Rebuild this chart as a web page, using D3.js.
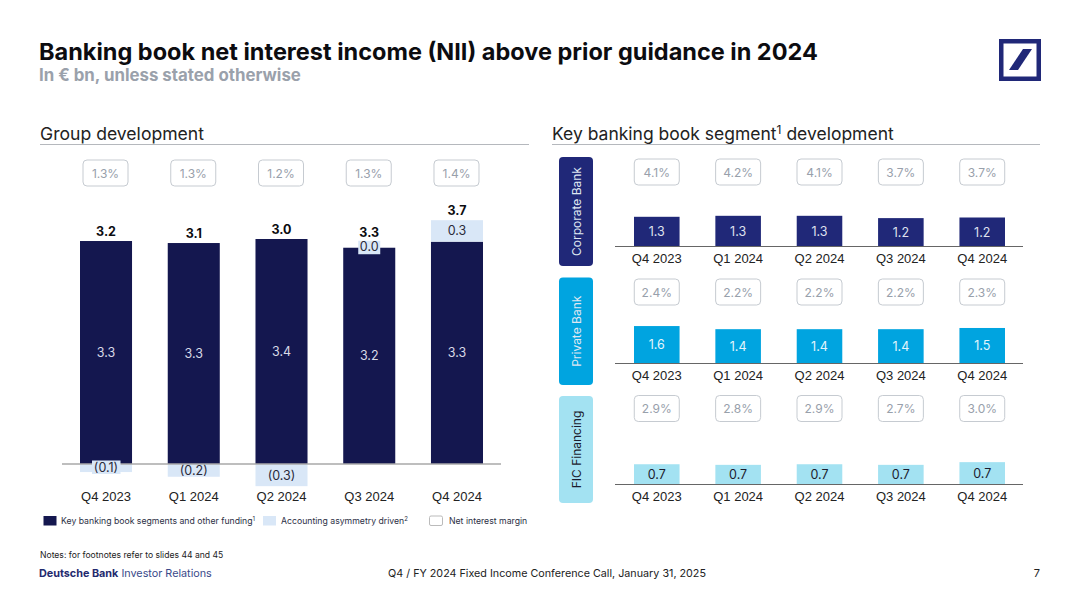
<!doctype html>
<html lang="en">
  <head>
    <meta charset="utf-8" />
    <title>Banking book NII</title>
    <script src="https://d3js.org/d3.v7.min.js"></script>
    <style>
      body { margin: 0; background: #fff; }
      svg { display: block; font-family: Inter, "Noto Sans", sans-serif; }
    </style>
  </head>
  <body>
    <svg id="main" width="1080" height="607"></svg>

    <script>
      const quarters = ['Q4 2023', 'Q1 2024', 'Q2 2024', 'Q3 2024', 'Q4 2024'];

      // group development
      const keySegments = [3.32, 3.29, 3.35, 3.22, 3.31];
      const asymmetry = [-0.12, -0.19, -0.33, 0.0, 0.32];
      const totals = ['3.2', '3.1', '3.0', '3.3', '3.7'];
      const asymmetryLabels = ['(0.1)', '(0.2)', '(0.3)', '0.0', '0.3'];
      const groupMargin = ['1.3%', '1.3%', '1.2%', '1.3%', '1.4%'];

      // segment development
      const corporate = [1.264, 1.306, 1.306, 1.208, 1.234];
      const corporateMargin = ['4.1%', '4.2%', '4.1%', '3.7%', '3.7%'];
      const privateBank = [1.56, 1.43, 1.43, 1.43, 1.48];
      const privateMargin = ['2.4%', '2.2%', '2.2%', '2.2%', '2.3%'];
      const fic = [0.675, 0.655, 0.675, 0.655, 0.745];
      const ficMargin = ['2.9%', '2.8%', '2.9%', '2.7%', '3.0%'];

      const navy = '#14174f';
      const blue = '#202878';
      const sky = '#00a4e0';
      const pale = '#a3e2f2';
      const lightBlue = '#d9e7f7';
      const grey = '#98a0ab';

      const svg = d3.select('#main');

      function text(x, y, str, size, color, weight, anchor) {
        return svg.append('text').attr('x', x).attr('y', y).text(str)
          .style('font-size', size + 'px').style('fill', color || '#1a1a1a')
          .style('font-weight', weight || 400).style('text-anchor', anchor || 'start');
      }

      function marginBox(cx, y, label) {
        svg.append('rect').attr('x', cx - 22.5).attr('y', y).attr('width', 45).attr('height', 26).attr('rx', 4)
          .style('fill', '#fff').style('stroke', '#c6cbd1');
        text(cx, y + 17.5, label, 12, grey, 400, 'middle');
      }

      // header
      text(39, 60, 'Banking book net interest income (NII) above prior guidance in 2024', 23.5, '#0c0c10', 700);
      text(39, 81, 'In € bn, unless stated otherwise', 16.85, '#9aa1ab', 700);

      svg.append('rect').attr('x', 1001.25).attr('y', 41.25).attr('width', 37.5).attr('height', 37.5)
        .style('fill', '#fff').style('stroke', blue).style('stroke-width', 4.5);
      svg.append('path').attr('d', 'M1023 49L1032 49L1018 70L1009 70Z').style('fill', blue);

      // section titles
      text(40, 140, 'Group development', 17.6, '#222');
      const segTitle = text(552, 140, 'Key banking book segment', 17.5, '#222');
      segTitle.append('tspan').text('1').attr('dy', -6).style('font-size', '12px');
      segTitle.append('tspan').text(' development').attr('dy', 6);
      svg.append('line').attr('x1', 40).attr('x2', 529).attr('y1', 144.5).attr('y2', 144.5).style('stroke', '#b5b8bd');
      svg.append('line').attr('x1', 552).attr('x2', 1040).attr('y1', 144.5).attr('y2', 144.5).style('stroke', '#b5b8bd');

      // group chart
      const xGroup = d3.scaleBand().domain(quarters).range([80, 483]).paddingInner(0.407).paddingOuter(0);
      const yGroup = d3.scaleLinear().domain([0, 3.35]).range([464, 239]);

      quarters.forEach((q, i) => {
        const topKey = yGroup(keySegments[i]);
        svg.append('rect').attr('x', xGroup(q)).attr('y', topKey)
          .attr('width', xGroup.bandwidth()).attr('height', yGroup(0) - topKey).style('fill', navy);
        const a = asymmetry[i];
        if (a !== 0) {
          const y0 = a > 0 ? yGroup(keySegments[i] + a) : yGroup(0);
          svg.append('rect').attr('x', xGroup(q)).attr('y', y0)
            .attr('width', xGroup.bandwidth()).attr('height', Math.abs(yGroup(a) - yGroup(0))).style('fill', lightBlue);
        }
      });

      svg.append('line').attr('x1', 62).attr('x2', 501).attr('y1', 464).attr('y2', 464).style('stroke', '#a8a8a8').style('stroke-width', 1.5);

      // labels go over the baseline, small values get a backing box
      quarters.forEach((q, i) => {
        const cx = xGroup(q) + xGroup.bandwidth() / 2;
        const topKey = yGroup(keySegments[i]);
        const a = asymmetry[i];
        marginBox(cx - 0.5, 160, groupMargin[i]);
        text(cx, (topKey + yGroup(0)) / 2 + 4.5, keySegments[i].toFixed(1), 12.5, '#d8dae6', 400, 'middle');

        if (a > 0) {
          text(cx, yGroup(keySegments[i] + a) + 15, asymmetryLabels[i], 12.5, '#2a2a3a', 400, 'middle');
        } else if (a === 0) {
          svg.append('rect').attr('x', cx - 11).attr('y', topKey - 7).attr('width', 22).attr('height', 13.5).style('fill', lightBlue);
          text(cx, topKey + 3, asymmetryLabels[i], 12.5, '#2a2a3a', 400, 'middle');
        } else if (a > -0.15) {
          svg.append('rect').attr('x', cx - 14).attr('y', 460.5).attr('width', 28.5).attr('height', 13.5).style('fill', lightBlue);
          text(cx, 471.5, asymmetryLabels[i], 12.5, '#2a2a3a', 400, 'middle');
        } else {
          text(cx, (yGroup(0) + yGroup(a)) / 2 + 4.5, asymmetryLabels[i], 12.5, '#2a2a3a', 400, 'middle');
        }

        const top = a > 0 ? yGroup(keySegments[i] + a) : topKey - (a === 0 ? 7 : 0);
        text(cx, top - (a === 0 ? 3.5 : 5), totals[i], 12.5, '#0c0c10', 700, 'middle');
      });

      const axisGroup = d3.axisBottom(xGroup).tickSize(0).tickPadding(27.5);
      const gGroup = svg.append('g').attr('transform', 'translate(0,464)').call(axisGroup);
      gGroup.select('.domain').remove();
      gGroup.selectAll('text').style('font-size', '13px').style('fill', '#222').style('font-family', 'inherit');

      // segment panels
      const xSeg = d3.scaleBand().domain(quarters).range([634, 1005]).paddingInner(0.44).paddingOuter(0);
      const panels = [
        { name: 'Corporate Bank', values: corporate, margins: corporateMargin, color: blue, textColor: '#dfe1ee', band: [157, 266], base: 246.5, perUnit: 23.5, boxY: 159 },
        { name: 'Private Bank', values: privateBank, margins: privateMargin, color: sky, textColor: '#e4f5fc', band: [277.5, 385], base: 363.5, perUnit: 24, boxY: 279 },
        { name: 'FIC Financing', values: fic, margins: ficMargin, color: pale, textColor: '#1c1c2e', band: [396, 503], base: 484.5, perUnit: 30, boxY: 395.5 }
      ];

      panels.forEach((p) => {
        svg.append('rect').attr('x', 559).attr('y', p.band[0]).attr('width', 34).attr('height', p.band[1] - p.band[0]).attr('rx', 4)
          .style('fill', p.color);
        const mid = (p.band[0] + p.band[1]) / 2;
        svg.append('text').text(p.name)
          .attr('transform', `translate(581,${mid}) rotate(-90)`)
          .style('font-size', '12px').style('text-anchor', 'middle')
          .style('fill', p.color === pale ? '#1c1c2e' : '#dfe7f2');

        const y = d3.scaleLinear().domain([0, 1]).range([p.base, p.base - p.perUnit]);
        quarters.forEach((q, i) => {
          const cx = xSeg(q) + xSeg.bandwidth() / 2;
          marginBox(cx, p.boxY, p.margins[i]);
          svg.append('rect').attr('x', xSeg(q)).attr('y', y(p.values[i]))
            .attr('width', xSeg.bandwidth()).attr('height', p.base - y(p.values[i])).style('fill', p.color);
          text(cx, (y(p.values[i]) + p.base) / 2 + 4.5, p.values[i].toFixed(1), 12.5, p.textColor, 400, 'middle');
        });

        const axis = d3.axisBottom(xSeg).tickSize(0).tickPadding(6.8);
        const g = svg.append('g').attr('transform', `translate(0,${p.base})`).call(axis);
        g.select('.domain').remove();
        g.selectAll('text').style('font-size', '13px').style('fill', '#222').style('font-family', 'inherit');
        svg.append('line').attr('x1', 615).attr('x2', 1023).attr('y1', p.base).attr('y2', p.base).style('stroke', '#666');
      });

      // legend
      const legendItems = [
        { x: 43.5, fill: navy, label: 'Key banking book segments and other funding', sup: '1', tx: 61 },
        { x: 263, fill: lightBlue, label: 'Accounting asymmetry driven', sup: '2', tx: 281 },
        { x: 429.5, fill: '#fff', label: 'Net interest margin', sup: '', tx: 449 }
      ];
      legendItems.forEach((d) => {
        svg.append('rect').attr('x', d.x).attr('y', 516).attr('width', 13).attr('height', 9.5).attr('rx', d.sup ? 0 : 1.5)
          .style('fill', d.fill).style('stroke', d.sup ? 'none' : '#bbb');
        const t = text(d.tx, 524, d.label, 8.7, '#2c2f45');
        if (d.sup) t.append('tspan').text(d.sup).attr('dy', -3).style('font-size', '6px');
      });

      // footer
      text(40, 558, 'Notes: for footnotes refer to slides 44 and 45', 8.6, '#222');
      const brand = text(39, 577, 'Deutsche Bank', 10.8, '#1f2a6e', 700);
      brand.append('tspan').text(' Investor Relations').style('font-weight', 400).style('fill', '#3a4a8a');
      text(547, 577, 'Q4 / FY 2024 Fixed Income Conference Call, January 31, 2025', 10.75, '#222', 400, 'middle');
      text(1040, 577, '7', 11, '#222', 400, 'end');
    </script>
  </body>
</html>
